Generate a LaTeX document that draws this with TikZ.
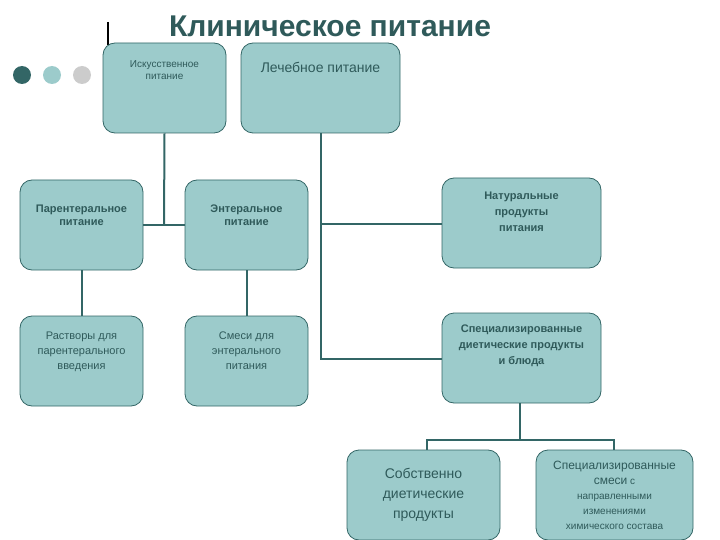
\documentclass[tikz,border=0pt]{standalone}
\usepackage{fontspec}
\setmainfont{Liberation Sans}
\definecolor{boxfill}{HTML}{9CCBCB}
\definecolor{teal}{HTML}{336666}
\definecolor{txt}{HTML}{2F5A5A}
\definecolor{dotgray}{HTML}{CCCCCC}
\begin{document}
\begin{tikzpicture}[x=1pt,y=-1pt,
  bx/.style={draw=teal,line width=0.8pt,fill=boxfill,rounded corners=12pt,text=txt,align=center,inner sep=1pt},
  ln/.style={draw=teal,line width=2pt}]
\useasboundingbox (0,0) rectangle (720,540);
\fill[teal] (22,75) circle (9); \fill[boxfill] (52,75) circle (9); \fill[dotgray] (82,75) circle (9);
\draw[line width=1.5pt] (108,22) -- (108,45);
\node[text=txt,font=\bfseries\fontsize{30}{32}\selectfont] (t) at (330,26) {Клиническое питание};
\def\bxat#1#2#3#4#5#6#7{\node[bx,minimum width=#4-#2,minimum height=#5-#3,font=#6] (#1) at ({(#2+#4)/2},{(#3+#5)/2}) {#7};}
\bxat{A}{103}{43}{226}{133}{\fontsize{10}{12}\selectfont}{Искусственное\\питание\\[24pt]}
\bxat{B}{241}{43}{400}{133}{\fontsize{14}{16}\selectfont}{Лечебное питание\\[26pt]}
\bxat{C}{20}{180}{143}{270}{\bfseries\fontsize{11}{13.5}\selectfont}{Парентеральное\\питание\\[6pt]}
\bxat{D}{185}{180}{308}{270}{\bfseries\fontsize{11}{13.5}\selectfont}{Энтеральное\\питание\\[6pt]}
\bxat{E}{442}{178}{601}{268}{\bfseries\fontsize{11}{16}\selectfont}{Натуральные\\продукты\\питания\\[6pt]}
\bxat{F}{20}{316}{143}{406}{\fontsize{11}{15}\selectfont}{Растворы для\\парентерального\\введения\\[6pt]}
\bxat{G}{185}{316}{308}{406}{\fontsize{11}{15}\selectfont}{Смеси для\\энтерального\\питания\\[6pt]}
\bxat{H}{442}{313}{601}{403}{\bfseries\fontsize{11}{16}\selectfont}{Специализированные\\диетические продукты\\и блюда\\[10pt]}
\bxat{I}{347}{450}{500}{540}{\fontsize{14}{20}\selectfont}{Собственно\\диетические\\продукты}
\bxat{J}{536}{450}{693}{540}{\fontsize{10}{15}\selectfont}{{\fontsize{12}{15}\selectfont Специализированные}\\{\fontsize{12}{15}\selectfont смеси}~с\\направленными\\изменениями\\химического состава}
\coordinate (a1) at (164,225); \coordinate (b1) at (321,224); \coordinate (b2) at (321,359);
\coordinate (h1) at (520,440); \coordinate (i1) at (427,440); \coordinate (j1) at (614,440);
\draw[ln] (A.south) -- (a1);
\draw[ln] (C.east|-a1) -- (D.west|-a1);
\draw[ln] (C.south) -- (F.north);
\draw[ln] (D.south) -- (G.north);
\draw[ln] (B.south-|b1) -- (b2) -- (H.west|-b2);
\draw[ln] (b1) -- (E.west|-b1);
\draw[ln] (H.south-|h1) -- (h1);
\draw[ln] (I.north-|i1) -- (i1) -- (j1) -- (J.north-|j1);
\end{tikzpicture}
\end{document}
